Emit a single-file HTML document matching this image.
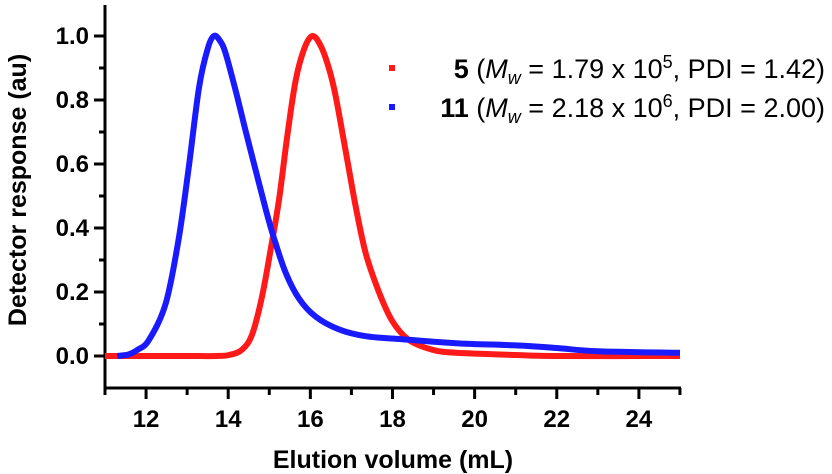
<!DOCTYPE html>
<html><head><meta charset="utf-8"><style>
html,body{margin:0;padding:0;background:#fff;}
svg{display:block;font-family:"Liberation Sans",sans-serif;font-weight:bold;}
</style></head><body>
<svg id="chart" width="832" height="474" viewBox="0 0 832 474"></svg>
<script>
const xTicks=[12,14,16,18,20,22,24];
const yTicks=[0.0,0.2,0.4,0.6,0.8,1.0];
const blueX=[11.3,11.58,11.8,12.07,12.48,12.8,13.05,13.29,13.5,13.65,13.8,13.94,14.18,14.43,14.67,14.91,15.11,15.4,15.72,16.13,16.7,17.35,18.16,19.54,21,22,23,25];
const blueY=[0,0.005,0.02,0.05,0.165,0.37,0.6,0.84,0.96,1.0,0.985,0.945,0.83,0.7,0.58,0.46,0.37,0.26,0.18,0.123,0.083,0.062,0.053,0.04,0.033,0.025,0.015,0.01];
const redX=[11,12,13,13.7,14.02,14.34,14.59,14.83,15.03,15.24,15.44,15.64,15.85,16.05,16.25,16.45,16.62,16.86,17.1,17.35,17.67,17.99,18.4,18.96,19.54,21,22,25];
const redY=[0,0,0,0,0.003,0.02,0.07,0.19,0.33,0.49,0.69,0.86,0.96,1.0,0.97,0.9,0.81,0.64,0.47,0.32,0.2,0.11,0.05,0.02,0.01,0.003,0,0];
const NS="http://www.w3.org/2000/svg";
const svg=document.getElementById('chart');
const X=v=>105+(v-11)*41.07;
const Y=v=>356-v*320;
function mk(t,a,txt){const e=document.createElementNS(NS,t);for(const k in a)e.setAttribute(k,a[k]);if(txt!==undefined)e.textContent=txt;svg.appendChild(e);return e;}
let e;
e=mk('line',{x1:105,y1:5,x2:105,y2:389,stroke:'#000','stroke-width':3});


e=mk('line',{x1:103.5,y1:388,x2:681,y2:388,stroke:'#000','stroke-width':3});


for(let v=11;v<=25;v++){
  e=mk('line',{x1:X(v),y1:388,x2:X(v),y2:(v%2==0)?399:395,stroke:'#000','stroke-width':3});
  
  
}
xTicks.forEach(v=>{
  e=mk('text',{x:X(v),y:427,'text-anchor':'middle','font-size':24},String(v));
  
  
});
for(let i=0;i<=10;i++){
  const v=i*0.1;
  e=mk('line',{x1:(i%2==0)?94:99,y1:Y(v),x2:105,y2:Y(v),stroke:'#000','stroke-width':3});
  
  
}
yTicks.forEach(v=>{
  e=mk('text',{x:89,y:Y(v)+8,'text-anchor':'end','font-size':24},v.toFixed(1));
  
  
});
e=mk('text',{x:393,y:468,'text-anchor':'middle','font-size':25},'Elution volume (mL)');


e=mk('text',{x:0,y:0,'text-anchor':'middle','font-size':25,transform:'translate(26,190) rotate(-90)'},'Detector response (au)');


function series(xs,ys,col,name){
  let d='M'+X(xs[0]).toFixed(1)+','+Y(ys[0]).toFixed(1);
  for(let i=0;i<xs.length-1;i++){
    const p0=[X(xs[Math.max(0,i-1)]),Y(ys[Math.max(0,i-1)])],p1=[X(xs[i]),Y(ys[i])],p2=[X(xs[i+1]),Y(ys[i+1])],p3=[X(xs[Math.min(xs.length-1,i+2)]),Y(ys[Math.min(xs.length-1,i+2)])];
    const c1=[p1[0]+(p2[0]-p0[0])/6,p1[1]+(p2[1]-p0[1])/6],c2=[p2[0]-(p3[0]-p1[0])/6,p2[1]-(p3[1]-p1[1])/6];
    d+=' C'+c1[0].toFixed(1)+','+c1[1].toFixed(1)+' '+c2[0].toFixed(1)+','+c2[1].toFixed(1)+' '+p2[0].toFixed(1)+','+p2[1].toFixed(1);
  }
  const p=mk('path',{d:d,fill:'none',stroke:col,'stroke-width':6,'stroke-linejoin':'round'});
  
  
}
series(redX,redY,'#ff1a1a','series-5-line');
series(blueX,blueY,'#1a1aff','series-11-line');
function legend(y,col,label,mw,exp,pdi,name){
  const r=mk('rect',{x:389,y:y-3,width:6,height:6,fill:col});
  
  
  const t=mk('text',{x:825,y:y+10,'text-anchor':'end','font-size':27,'font-weight':'normal'});
  
  
  t.innerHTML='<tspan font-weight="bold">'+label+'</tspan> (<tspan font-style="italic">M</tspan><tspan font-style="italic" font-size="18" dy="6">w</tspan><tspan dy="-6"> = '+mw+' x 10</tspan><tspan font-size="18" dy="-10">'+exp+'</tspan><tspan dy="10">, PDI = '+pdi+')</tspan>';
}
legend(68,'#ff1a1a','5','1.79','5','1.42','legend-entry-5');
legend(107,'#1a1aff','11','2.18','6','2.00','legend-entry-11');
</script>
</body></html>
